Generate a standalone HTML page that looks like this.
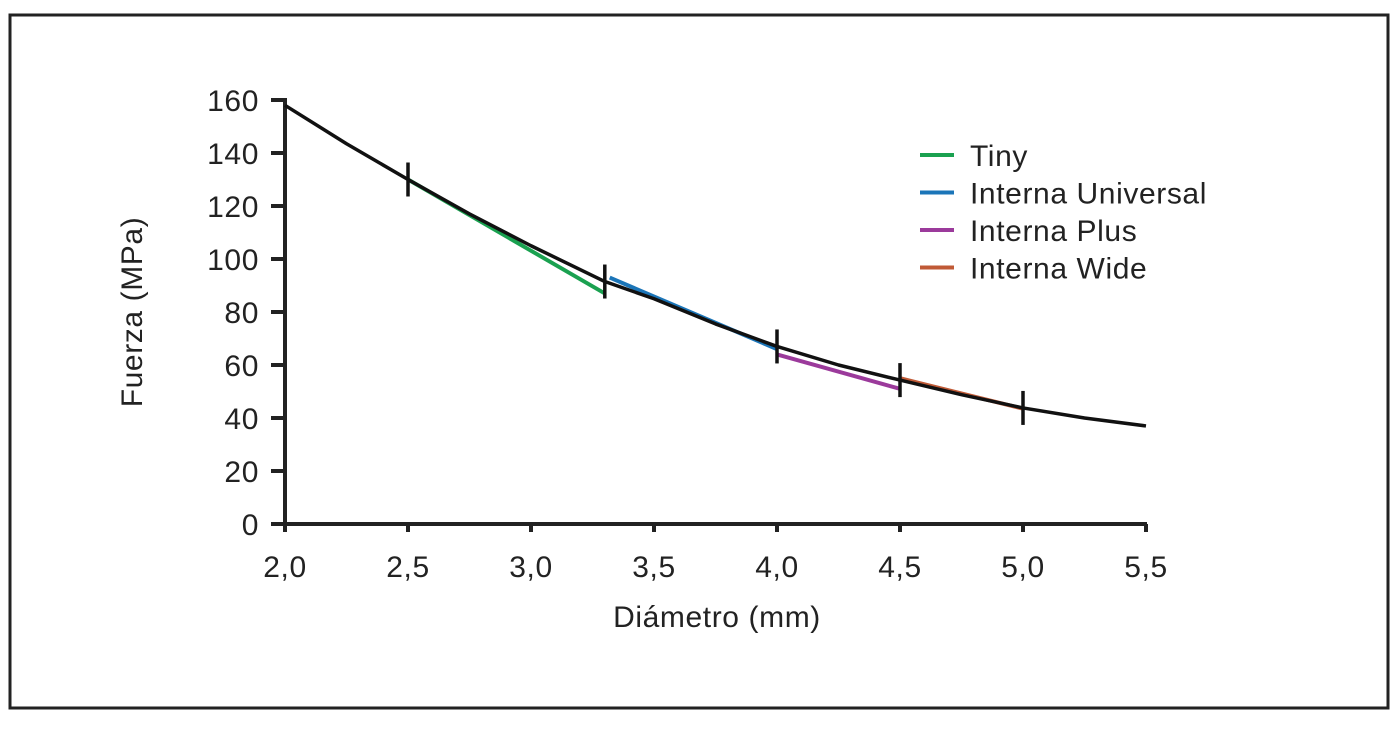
<!DOCTYPE html>
<html><head><meta charset="utf-8"><style>
body{margin:0;background:#fff;}
svg text{font-family:"Liberation Sans",sans-serif;fill:#222;letter-spacing:0.6px;}
</style></head><body>
<svg id="chart" width="1400" height="737" xmlns="http://www.w3.org/2000/svg">
<rect x="10" y="15" width="1378" height="693" fill="none" stroke="#222" stroke-width="3"/>
<g id="g"></g>
</svg>
<script>
const xTicks=[2.0,2.5,3.0,3.5,4.0,4.5,5.0,5.5];
const xTickLabels=["2,0","2,5","3,0","3,5","4,0","4,5","5,0","5,5"];
const yTicks=[0,20,40,60,80,100,120,140,160];
const curveX=[2.0,2.25,2.5,2.75,3.0,3.3,3.5,3.75,4.0,4.25,4.5,4.75,5.0,5.25,5.5];
const curveY=[158,143.5,130,117,105,91.5,85,75.5,67,60,54.3,48.8,43.8,40,37];
const markerX=[2.5,3.3,4.0,4.5,5.0];
const markerY=[130,91.5,67,54.3,43.8];
const seriesNames=["Tiny","Interna Universal","Interna Plus","Interna Wide"];
const seriesColors=["#1aa150","#1b75b8","#9b3a9b","#c05a36"];
const seriesX0=[2.5,3.32,4.0,4.5];
const seriesY0=[130,93,64,55];
const seriesX1=[3.3,4.0,4.5,5.0];
const seriesY1=[87,66,51,43.5];
const X0=285,X1=1146,Y0=524,Y1=100;
const sx=v=>X0+(v-2)/(5.5-2)*(X1-X0);
const sy=v=>Y0-v/160*(Y0-Y1);
const g=document.getElementById('g');
const NS="http://www.w3.org/2000/svg";
function mk(t,a,txt){const e=document.createElementNS(NS,t);for(const k in a)e.setAttribute(k,a[k]);if(txt!==undefined)e.textContent=txt;g.appendChild(e);return e;}
let e;
e=mk('line',{x1:X0,y1:Y1-2,x2:X0,y2:Y0,stroke:'#222','stroke-width':4});


e=mk('line',{x1:X0-2,y1:Y0,x2:X1+1,y2:Y0,stroke:'#222','stroke-width':4});


yTicks.forEach(v=>{
 e=mk('line',{x1:X0-14,y1:sy(v),x2:X0,y2:sy(v),stroke:'#222','stroke-width':4});
 
 
 e=mk('text',{x:X0-26,y:sy(v)+11,'text-anchor':'end','font-size':30},String(v));
 
 
});
xTicks.forEach((v,i)=>{
 e=mk('line',{x1:sx(v),y1:Y0,x2:sx(v),y2:Y0+8,stroke:'#222','stroke-width':4});
 
 
 e=mk('text',{x:sx(v),y:Y0+53,'text-anchor':'middle','font-size':30},xTickLabels[i]);
 
 
});
e=mk('text',{x:717,y:627,'text-anchor':'middle','font-size':30},'Diámetro (mm)');


e=mk('text',{x:0,y:0,'text-anchor':'middle','font-size':30,transform:'translate(142,312) rotate(-90)'},'Fuerza (MPa)');


seriesNames.forEach((n,i)=>{
 e=mk('line',{x1:sx(seriesX0[i]),y1:sy(seriesY0[i]),x2:sx(seriesX1[i]),y2:sy(seriesY1[i]),stroke:seriesColors[i],'stroke-width':4});
 
 
});
e=mk('path',{d:curveX.map((x,i)=>(i?'L':'M')+sx(x)+','+sy(curveY[i])).join(''),fill:'none',stroke:'#111','stroke-width':3.5,'stroke-linejoin':'round'});


markerX.forEach((x,i)=>{
 e=mk('line',{x1:sx(x),y1:sy(markerY[i])-17,x2:sx(x),y2:sy(markerY[i])+17,stroke:'#111','stroke-width':3.5});
 
 
});
seriesNames.forEach((n,i)=>{
 const y=155+i*37.5;
 e=mk('line',{x1:920,y1:y,x2:954,y2:y,stroke:seriesColors[i],'stroke-width':4});
 
 
 e=mk('text',{x:970,y:y+11,'font-size':30},n);
 
 
});
</script>
</body></html>
